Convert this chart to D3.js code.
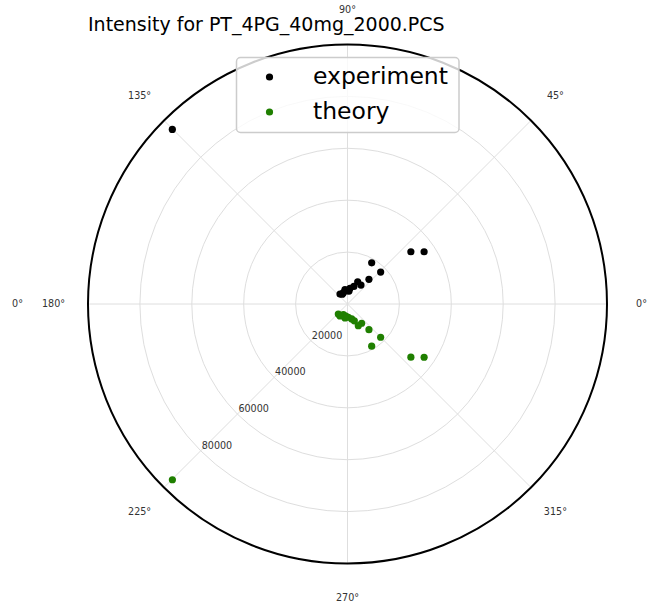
<!DOCTYPE html>
<meta charset="utf-8">
<style>
body { margin: 0; background: #fff; }
text { font-family: "DejaVu Sans", sans-serif; }
.grid circle, .grid line { fill: none; stroke: #dedede; stroke-width: 1px; }
.tick-label { fill: #333; font-size: 9.6px; }
</style>
<svg width="653" height="610"></svg>
<script src="https://d3js.org/d3.v7.min.js"></script>
<script>
var svg = d3.select("svg"),
    cx = 347.5,
    cy = 304,
    radius = 259.5;

// angles in degrees, intensities in counts
var expAngles =    [39.5, 34.3, 59.6, 43.9, 49.0, 54.6, 65.4, 81, 93, 110, 127, 70, 100, 83.4, 118, 135.1];
var expIntensity = [31650, 35730, 18410, 17730, 12590, 8970, 9430, 6110, 5130, 4640, 4810, 7200, 5600, 5030, 4300, 95300];

var theoryAngles =    [320, 325.2, 299.8, 314.9, 309.9, 306.3, 296.5, 285.6, 273.4, 249, 227.4, 292, 262, 259.9, 238, 225.1];
var theoryIntensity = [31880, 35950, 18740, 18090, 12890, 9210, 9320, 5990, 5120, 4420, 5230, 7000, 4700, 5470, 5440, 95600];

var radialTicks = [20000, 40000, 60000, 80000];
var thetaTicks = [0, 45, 90, 135, 180, 225, 270, 315];

var r = d3.scaleLinear().domain([0, 100000]).range([0, radius]);

function px(a, v) { return cx + r(v) * Math.cos(a * Math.PI / 180); }
function py(a, v) { return cy - r(v) * Math.sin(a * Math.PI / 180); }

//grid
var grid = svg.append("g").attr("class", "grid");
grid.selectAll("circle")
    .data(radialTicks)
    .enter().append("circle")
    .attr("cx", cx).attr("cy", cy)
    .attr("r", function(d) { return r(d); });
grid.selectAll("line")
    .data(thetaTicks)
    .enter().append("line")
    .attr("x1", cx).attr("y1", cy)
    .attr("x2", function(d) { return px(d, 100000); })
    .attr("y2", function(d) { return py(d, 100000); });

//outer frame
svg.append("circle")
    .attr("cx", cx).attr("cy", cy).attr("r", radius)
    .attr("fill", "none").attr("stroke", "#000").attr("stroke-width", 2);

//theta labels
var labelR = r.invert(294);
svg.append("g").selectAll("text")
    .data(thetaTicks)
    .enter().append("text")
    .attr("class", "tick-label")
    .attr("x", function(d) { return px(d, labelR); })
    .attr("y", function(d) { return py(d, labelR); })
    .attr("text-anchor", "middle")
    .attr("dy", "0.35em")
    .text(function(d) { return d + "°"; });

// stray duplicate label on the left
svg.append("text")
    .attr("class", "tick-label")
    .attr("x", px(180, r.invert(330)))
    .attr("y", cy)
    .attr("text-anchor", "middle")
    .attr("dy", "0.35em")
    .text("0°");

//radial labels along 225 deg
svg.append("g").selectAll("text")
    .data(radialTicks)
    .enter().append("text")
    .attr("class", "tick-label")
    .attr("x", function(d) { return px(225, d) + 1; })
    .attr("y", function(d) { return py(225, d) - 2; })
    .text(function(d) { return d; });

//points
function drawSeries(angles, values, color) {
    svg.append("g").selectAll("circle")
        .data(angles)
        .enter().append("circle")
        .attr("r", 3.6)
        .attr("fill", color)
        .attr("cx", function(d, i) { return px(d, values[i]); })
        .attr("cy", function(d, i) { return py(d, values[i]); });
}
drawSeries(expAngles, expIntensity, "#000");
drawSeries(theoryAngles, theoryIntensity, "#1f7f00");

//title
svg.append("text")
    .attr("x", 88).attr("y", 30.5)
    .attr("font-size", "19px")
    .attr("fill", "#000")
    .text("Intensity for PT_4PG_40mg_2000.PCS");

//legend
var legend = svg.append("g");
legend.append("rect")
    .attr("x", 236.5).attr("y", 57.5)
    .attr("width", 222.5).attr("height", 75)
    .attr("rx", 4)
    .attr("fill", "#fff").attr("fill-opacity", 0.8)
    .attr("stroke", "#ccc").attr("stroke-width", 1.5);

var legendItems = [
    {name: "experiment", color: "#000"},
    {name: "theory", color: "#1f7f00"}
];
legendItems.forEach(function(d, i) {
    legend.append("circle")
        .attr("cx", 269.5).attr("cy", 77 + i * 35)
        .attr("r", 3.6).attr("fill", d.color);
    legend.append("text")
        .attr("x", 313).attr("y", 84 + i * 35)
        .attr("font-size", "23.5px")
        .attr("fill", "#000")
        .text(d.name);
});
</script>
